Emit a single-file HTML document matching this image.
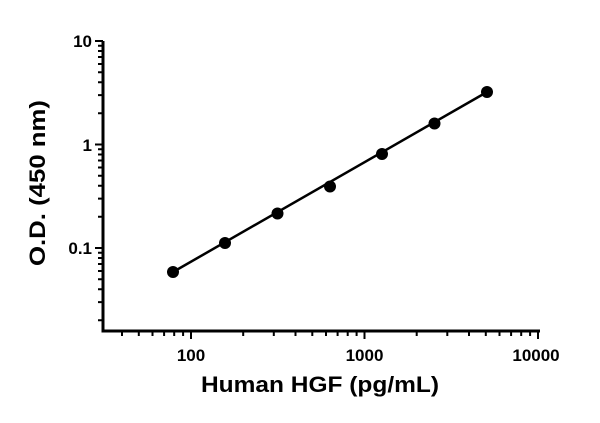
<!DOCTYPE html><html><head><style>body{margin:0;background:#fff}</style></head><body>
<svg width="600" height="418" xmlns="http://www.w3.org/2000/svg" font-family="Liberation Sans, sans-serif">
<path d="M103,41 V331 H540" stroke="#000" stroke-width="3" fill="none"/>
<g stroke="#000" stroke-width="2">
<line x1="95" y1="41" x2="103" y2="41"/><line x1="95" y1="144.5" x2="103" y2="144.5"/><line x1="95" y1="248" x2="103" y2="248"/>
<line x1="191" y1="331" x2="191" y2="339"/><line x1="364.5" y1="331" x2="364.5" y2="339"/><line x1="538" y1="331" x2="538" y2="339"/>
</g>
<g stroke="#000" stroke-width="2">
<path d="M98,320.3h5M98,302.1h5M98,289.2h5M98,279.2h5M98,271h5M98,264h5M98,258h5M98,252.7h5
M98,216.8h5M98,198.6h5M98,185.7h5M98,175.7h5M98,167.5h5M98,160.5h5M98,154.5h5M98,149.2h5
M98,113.3h5M98,95.1h5M98,82.2h5M98,72.2h5M98,64h5M98,57h5M98,51h5M98,45.7h5"/>
<path d="M122,331v5M138.8,331v5M152.5,331v5M164.1,331v5M174.2,331v5M183.1,331v5
M243.2,331v5M273.8,331v5M295.5,331v5M312.3,331v5M326,331v5M337.6,331v5M347.7,331v5M356.6,331v5
M416.7,331v5M447.3,331v5M469,331v5M485.8,331v5M499.5,331v5M511.1,331v5M521.2,331v5M530.1,331v5"/>
</g>
<g font-size="17" font-weight="bold" fill="#000" text-anchor="end">
<text x="92" y="47">10</text><text x="92" y="151">1</text><text x="92" y="254">0.1</text>
</g>
<g font-size="17" font-weight="bold" fill="#000" text-anchor="middle">
<text x="191" y="361">100</text><text x="364.5" y="361">1000</text><text x="536" y="361">10000</text>
</g>
<text x="201" y="392" font-size="22" font-weight="bold" textLength="238" lengthAdjust="spacingAndGlyphs">Human HGF (pg/mL)</text>
<text transform="translate(45,266) rotate(-90)" font-size="22" font-weight="bold" textLength="166" lengthAdjust="spacingAndGlyphs">O.D. (450 nm)</text>
<line x1="173" y1="272" x2="487" y2="92" stroke="#000" stroke-width="2.5"/>
<g fill="#000">
<circle cx="173" cy="272" r="6"/><circle cx="225" cy="243" r="6"/><circle cx="277.5" cy="213.5" r="6"/><circle cx="330" cy="186.5" r="6"/><circle cx="382" cy="154" r="6"/><circle cx="434.5" cy="123.5" r="6"/><circle cx="487" cy="92" r="6"/>
</g>
</svg></body></html>
